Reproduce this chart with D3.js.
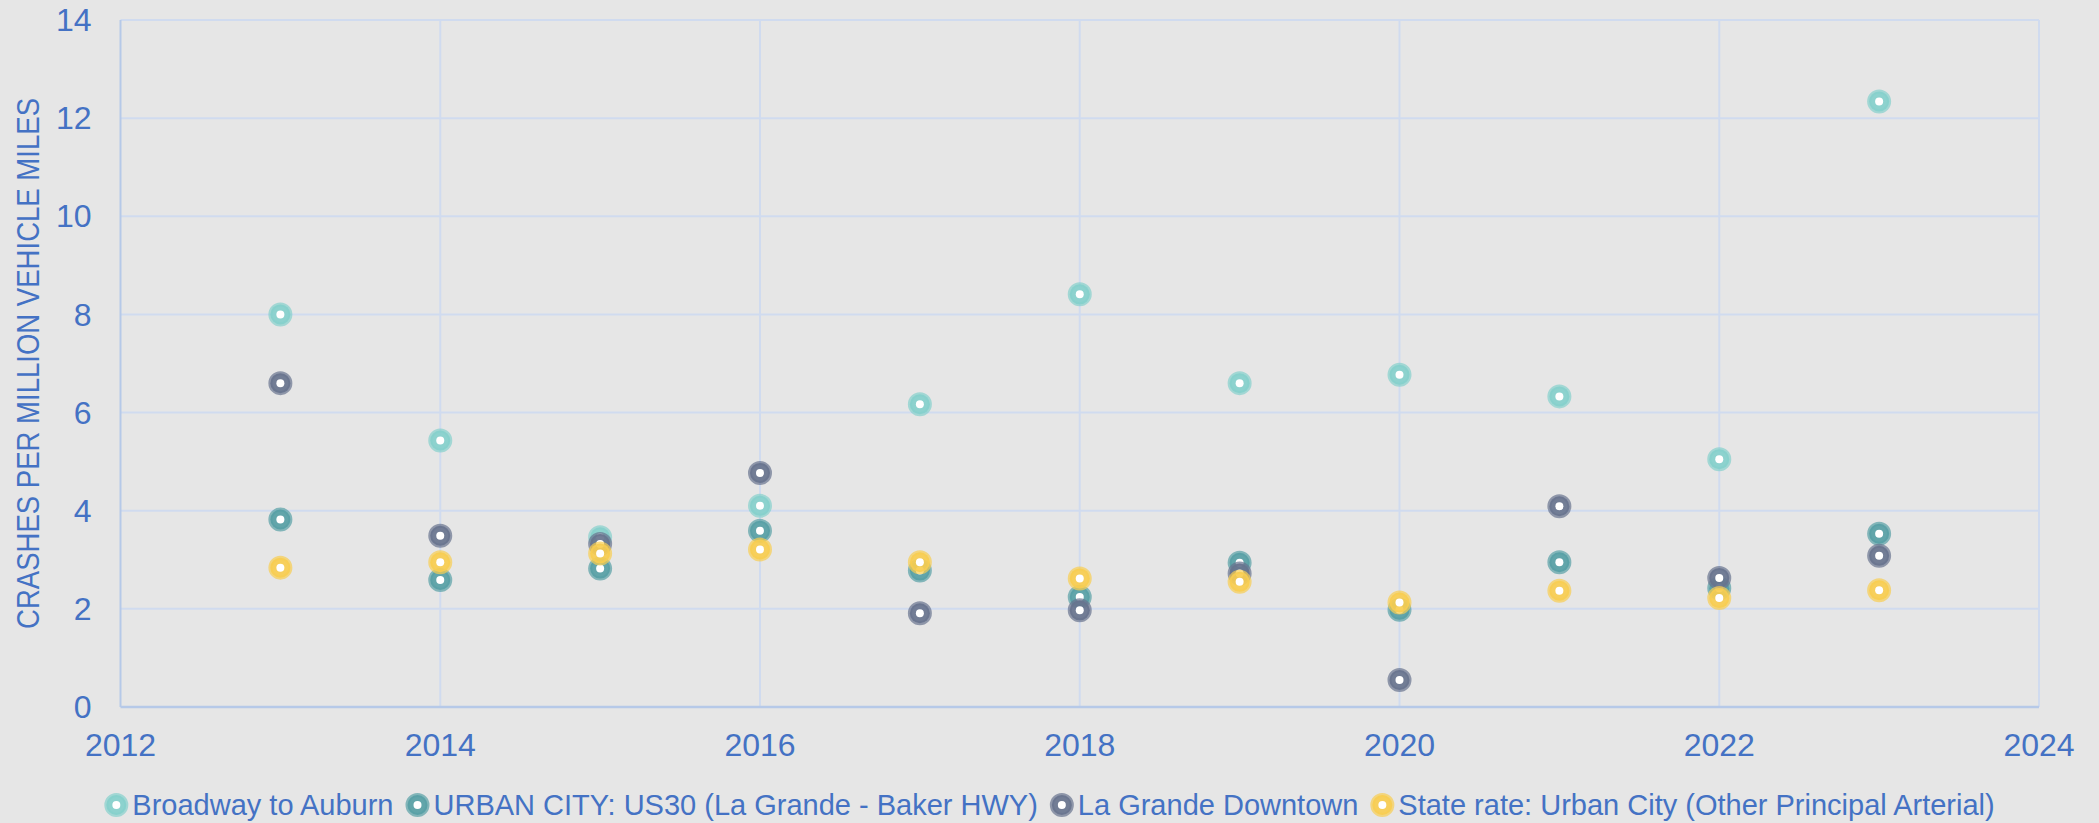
<!DOCTYPE html>
<html lang="en">
<head>
<meta charset="UTF-8">
<title>Crash rates</title>
<style>
body { margin: 0; background: #e6e6e6; }
svg { display: block; }
text { font-family: "Liberation Sans", Arial, sans-serif; fill: #4472c4; }
</style>
</head>
<body>
<svg width="2099" height="823"></svg>
<script src="https://d3js.org/d3.v7.min.js"></script>
<script>
var years = [2013, 2014, 2015, 2016, 2017, 2018, 2019, 2020, 2021, 2022, 2023];

var broadway = [8.0, 5.43, 3.46, 4.10, 6.17, 8.41, 6.60, 6.77, 6.33, 5.05, 12.34];
var urbanCity = [3.82, 2.59, 2.82, 3.59, 2.78, 2.24, 2.94, 1.98, 2.95, 2.42, 3.53];
var downtown = [6.60, 3.49, 3.32, 4.77, 1.91, 1.97, 2.72, 0.55, 4.09, 2.63, 3.08];
var stateRate = [2.84, 2.95, 3.13, 3.21, 2.95, 2.62, 2.55, 2.13, 2.37, 2.22, 2.38];

var seriesNames = ["Broadway to Auburn", "URBAN CITY: US30 (La Grande - Baker HWY)", "La Grande Downtown", "State rate: Urban City (Other Principal Arterial)"];
var seriesColors = ["#85d0cc", "#57a0a5", "#68748e", "#f8cd50"];
var xTicks = [2012, 2014, 2016, 2018, 2020, 2022, 2024];
var yTicks = [0, 2, 4, 6, 8, 10, 12, 14];

var series = [broadway, urbanCity, downtown, stateRate].map(function(vals, i) {
    return { name: seriesNames[i], color: seriesColors[i], values: vals };
});

var svg = d3.select("svg"),
    width = +svg.attr("width"),
    height = +svg.attr("height"),
    margin = { left: 120.5, right: 60, top: 20, bottom: 116 };

var x = d3.scaleLinear().domain([2012, 2024]).range([margin.left, width - margin.right]);
var y = d3.scaleLinear().domain([0, 14]).range([height - margin.bottom, margin.top]);

// grid
svg.append("g").selectAll("line.h").data(yTicks.slice(1)).join("line")
    .attr("x1", x(2012)).attr("x2", x(2024))
    .attr("y1", function(d) { return y(d); }).attr("y2", function(d) { return y(d); })
    .attr("stroke", "#d0dbef").attr("stroke-width", 2);
svg.append("g").selectAll("line.v").data(xTicks.slice(1)).join("line")
    .attr("x1", function(d) { return x(d); }).attr("x2", function(d) { return x(d); })
    .attr("y1", y(0)).attr("y2", y(14))
    .attr("stroke", "#d0dbef").attr("stroke-width", 2);

// axis lines
svg.append("line").attr("x1", x(2012)).attr("x2", x(2012)).attr("y1", y(0)).attr("y2", y(14))
    .attr("stroke", "#b6c9e8").attr("stroke-width", 2);
svg.append("line").attr("x1", x(2012)).attr("x2", x(2024)).attr("y1", y(0)).attr("y2", y(0))
    .attr("stroke", "#b6c9e8").attr("stroke-width", 2.5);

// tick labels
svg.append("g").selectAll("text").data(yTicks).join("text")
    .attr("x", x(2012) - 29).attr("y", function(d) { return y(d); })
    .attr("dy", "0.35em").attr("text-anchor", "end")
    .style("font-size", "32px")
    .text(function(d) { return d; });
svg.append("g").selectAll("text").data(xTicks).join("text")
    .attr("x", function(d) { return x(d); }).attr("y", y(0) + 38)
    .attr("dy", "0.35em").attr("text-anchor", "middle")
    .style("font-size", "32px")
    .text(function(d) { return d; });

// axis title
svg.append("text")
    .attr("transform", "translate(28," + ((y(0) + y(14)) / 2) + ") rotate(-90)")
    .attr("dy", "0.35em").attr("text-anchor", "middle")
    .attr("textLength", 531).attr("lengthAdjust", "spacingAndGlyphs")
    .style("font-size", "31px")
    .text("CRASHES PER MILLION VEHICLE MILES");

function marker(g, color) {
    g.append("circle").attr("r", 10)
        .attr("fill", color).attr("fill-opacity", 0.92)
        .attr("stroke", color).attr("stroke-opacity", 0.7).attr("stroke-width", 4);
    g.append("circle").attr("r", 4).attr("fill", "#ffffff");
}

// points
series.forEach(function(s) {
    var g = svg.append("g");
    g.selectAll("g").data(s.values).join("g")
        .attr("transform", function(d, i) { return "translate(" + x(years[i]) + "," + y(d) + ")"; })
        .each(function() { marker(d3.select(this), s.color); });
});

// legend
var legend = svg.append("g");
var lx = 0;
series.forEach(function(s, i) {
    var item = legend.append("g").attr("transform", "translate(" + lx + ",0)");
    marker(item.append("g").attr("transform", "translate(12,0)"), s.color);
    var t = item.append("text").attr("x", 28).attr("dy", "0.35em")
        .style("font-size", "29px").text(s.name);
    lx += 28 + t.node().getComputedTextLength() + 12;
});
lx -= 12;
legend.attr("transform", "translate(" + (width / 2 - lx / 2) + ",805)");
</script>
</body>
</html>
